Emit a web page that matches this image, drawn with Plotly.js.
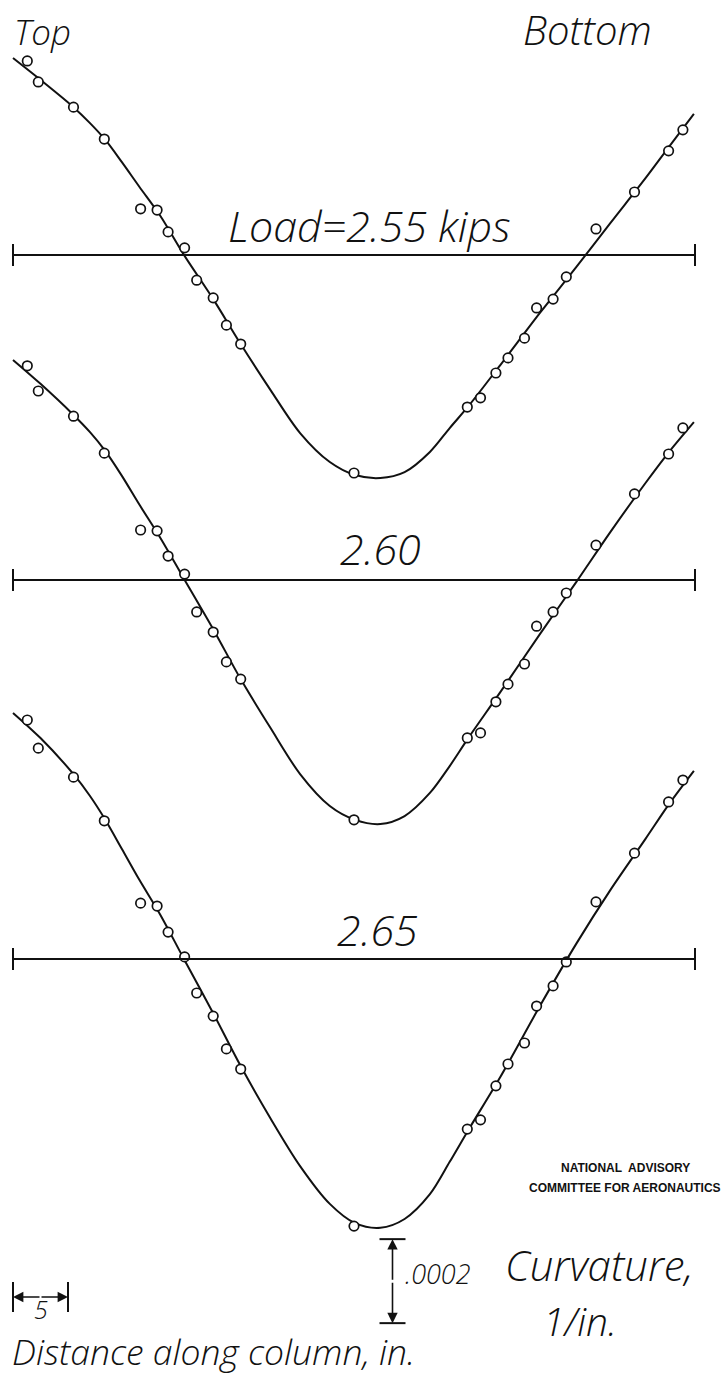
<!DOCTYPE html>
<html>
<head>
<meta charset="utf-8">
<script src="https://cdn.plot.ly/plotly-3.0.1.min.js"></script>
<style>body{margin:0;background:#fff}</style>
</head>
<body>
<div id="plot" style="width:722px;height:1378px"></div>
<script>
// gauge stations, distance along column (in.), top end = 0
var stations = [1.3, 2.3, 5.5, 8.3, 11.6, 13.1, 14.1, 15.6, 16.7, 18.2, 19.4, 20.7, 31.0,
                41.3, 42.5, 43.9, 45.0, 46.5, 47.6, 49.1, 50.3, 53.0, 56.5, 59.6, 60.9];

// measured curvature, 1/in.
var curv255 = [4.62e-4, 4.12e-4, 3.52e-4, 2.76e-4, 1.10e-4, 1.07e-4, 0.55e-4, 0.17e-4, -0.60e-4, -1.02e-4, -1.67e-4, -2.12e-4, -5.19e-4,
               -3.62e-4, -3.40e-4, -2.81e-4, -2.45e-4, -1.98e-4, -1.26e-4, -1.05e-4, -0.52e-4, 0.62e-4, 1.50e-4, 2.48e-4, 2.98e-4];
var curv260 = [5.10e-4, 4.50e-4, 3.90e-4, 3.02e-4, 1.19e-4, 1.17e-4, 0.57e-4, 0.14e-4, -0.76e-4, -1.24e-4, -1.95e-4, -2.36e-4, -5.71e-4,
               -3.76e-4, -3.64e-4, -2.90e-4, -2.48e-4, -2.00e-4, -1.10e-4, -0.76e-4, -0.31e-4, 0.83e-4, 2.05e-4, 3.00e-4, 3.62e-4];
var curv265 = [5.69e-4, 5.02e-4, 4.33e-4, 3.29e-4, 1.33e-4, 1.26e-4, 0.64e-4, 0.05e-4, -0.81e-4, -1.36e-4, -2.14e-4, -2.62e-4, -6.36e-4,
               -4.05e-4, -3.83e-4, -3.02e-4, -2.50e-4, -2.00e-4, -1.12e-4, -0.64e-4, -0.07e-4, 1.36e-4, 2.52e-4, 3.74e-4, 4.26e-4];

// faired curves
var fairX = [0, 2.5, 5.5, 7.0, 8.4, 9.9, 11.5, 13.4, 15.5, 18.2, 20.7, 23.4, 26.1, 28.8, 31.1,
             33.4, 35.6, 37.9, 39.7, 41.4, 44.3, 47.9, 51.2, 54.3, 57.5, 59.7, 61.9];
var fair255 = [4.69e-4, 4.17e-4, 3.52e-4, 3.14e-4, 2.74e-4, 2.21e-4, 1.62e-4, 0.93e-4, 0.02e-4, -1.05e-4, -2.12e-4, -3.21e-4, -4.24e-4, -4.93e-4, -5.24e-4,
               -5.31e-4, -5.17e-4, -4.69e-4, -4.12e-4, -3.60e-4, -2.62e-4, -1.38e-4, -0.29e-4, 0.76e-4, 1.83e-4, 2.60e-4, 3.36e-4];
var fair260 = [5.24e-4, 4.67e-4, 3.93e-4, 3.52e-4, 3.07e-4, 2.48e-4, 1.79e-4, 1.00e-4, 0.05e-4, -1.17e-4, -2.36e-4, -3.52e-4, -4.62e-4, -5.38e-4, -5.71e-4,
               -5.81e-4, -5.62e-4, -5.07e-4, -4.43e-4, -3.76e-4, -2.67e-4, -1.29e-4, -0.05e-4, 1.14e-4, 2.31e-4, 3.07e-4, 3.76e-4];
var fair265 = [5.86e-4, 5.26e-4, 4.40e-4, 3.88e-4, 3.31e-4, 2.62e-4, 1.88e-4, 1.05e-4, 0.02e-4, -1.29e-4, -2.55e-4, -3.79e-4, -4.93e-4, -5.83e-4, -6.29e-4,
               -6.40e-4, -6.19e-4, -5.60e-4, -4.83e-4, -4.07e-4, -2.81e-4, -1.12e-4, 0.36e-4, 1.64e-4, 2.86e-4, 3.71e-4, 4.48e-4];

var loads = ["2.55", "2.60", "2.65"];
var columnLength = 62;     // in.
var distScale = 5;         // in.
var curvScale = 0.0002;    // 1/in.

// page geometry
var W = 722, H = 1378;
var pxPerIn = 11, x0px = 13;
var k = curvScale / 84;            // curvature per pixel
var basePx = [255, 580, 959];      // baseline of each curve on the page

function px(x) { return x / W; }
function py(y) { return 1 - y / H; }

var lettering = {family: "Open Sans, DejaVu Sans, sans-serif", color: "#111", style: "italic", weight: 300};

var measured = [curv255, curv260, curv265];
var faired = [fair255, fair260, fair265];
var data = [];
var shapes = [];
var annotations = [];

for (var i = 0; i < 3; i++) {
  var yref = i === 0 ? "y" : "y" + (i + 1);
  data.push({
    x: fairX, y: faired[i], yaxis: yref, type: "scatter", mode: "lines",
    line: {color: "#111", width: 2, shape: "spline", smoothing: 0.9},
    hoverinfo: "skip", showlegend: false
  });
  data.push({
    x: stations, y: measured[i], yaxis: yref, type: "scatter", mode: "markers",
    marker: {symbol: "circle", size: 9.5, color: "white", line: {color: "#111", width: 1.7}},
    name: loads[i] + " kips", showlegend: false
  });
  // baseline with end ticks
  shapes.push({type: "line", xref: "x", yref: yref, x0: 0, x1: columnLength, y0: 0, y1: 0,
               line: {color: "#111", width: 2}});
  [0, columnLength].forEach(function (xe) {
    shapes.push({type: "line", xref: "x", yref: yref, ysizemode: "pixel", yanchor: 0,
                 x0: xe, x1: xe, y0: -11, y1: 11, line: {color: "#111", width: 2}});
  });
}

// load labels
var labelPos = [[369, 225], [380, 548], [377, 930]];
loads.forEach(function (l, i) {
  annotations.push({xref: "paper", yref: "paper", x: px(labelPos[i][0]), y: py(labelPos[i][1]),
    text: i === 0 ? "Load=" + l + " kips" : l, showarrow: false,
    xanchor: "center", yanchor: "middle", font: Object.assign({size: 43}, lettering)});
});

function note(text, x, y, size, anchor) {
  annotations.push({xref: "paper", yref: "paper", x: px(x), y: py(y), text: text, showarrow: false,
    xanchor: anchor || "center", yanchor: "middle", font: Object.assign({size: size}, lettering)});
}
note("Top", 12, 31, 35, "left");
note("Bottom", 521, 29, 40, "left");
note(".0002", 403, 1273, 27, "left");
note("Curvature,", 599, 1264, 42);
note("1/in.", 580, 1320, 39);
note("5", 41, 1309, 25);
note("Distance along column, in.", 10, 1351, 35.5, "left");

var naca = {family: "Liberation Sans, Arial, sans-serif", size: 12, color: "#111", weight: 700};
annotations.push({xref: "paper", yref: "paper", x: px(625), y: py(1168), text: "NATIONAL  ADVISORY",
  showarrow: false, xanchor: "center", yanchor: "middle", font: naca});
annotations.push({xref: "paper", yref: "paper", x: px(625), y: py(1188), text: "COMMITTEE FOR AERONAUTICS",
  showarrow: false, xanchor: "center", yanchor: "middle", font: naca});

// distance scale bar
var barY = py(1297);
[0, distScale].forEach(function (xe) {
  shapes.push({type: "line", xref: "x", yref: "paper", ysizemode: "pixel", yanchor: barY,
               x0: xe, x1: xe, y0: -15, y1: 15, line: {color: "#111", width: 2}});
});
annotations.push({xref: "x", yref: "paper", x: 0, y: barY, ax: 28, ay: 0, text: "", showarrow: true,
  arrowhead: 2, arrowsize: 1.3, arrowwidth: 1.6, arrowcolor: "#111"});
annotations.push({xref: "x", yref: "paper", x: distScale, y: barY, ax: -28, ay: 0, text: "", showarrow: true,
  arrowhead: 2, arrowsize: 1.3, arrowwidth: 1.6, arrowcolor: "#111"});

// curvature scale bar (drawn on the bottom curve's axis)
var barX = 34.5, barTop = -6.67e-4;
[barTop, barTop - curvScale].forEach(function (ye) {
  shapes.push({type: "line", xref: "x", yref: "y3", xsizemode: "pixel", xanchor: barX,
               x0: -13, x1: 13, y0: ye, y1: ye, line: {color: "#111", width: 2}});
});
annotations.push({xref: "x", yref: "y3", x: barX, y: barTop, ax: 0, ay: 42, text: "", showarrow: true,
  arrowhead: 2, arrowsize: 1.3, arrowwidth: 1.6, arrowcolor: "#111"});
annotations.push({xref: "x", yref: "y3", x: barX, y: barTop - curvScale, ax: 0, ay: -42, text: "", showarrow: true,
  arrowhead: 2, arrowsize: 1.3, arrowwidth: 1.6, arrowcolor: "#111"});

function yax(b, extra) {
  return Object.assign({range: [-(H - b) * k, b * k], domain: [0, 1], visible: false,
    showgrid: false, zeroline: false, fixedrange: true}, extra || {});
}

var layout = {
  width: W, height: H, autosize: false,
  margin: {l: 0, r: 0, t: 0, b: 0},
  paper_bgcolor: "white", plot_bgcolor: "white",
  showlegend: false,
  xaxis: {range: [-x0px / pxPerIn, (W - x0px) / pxPerIn], visible: false, showgrid: false, zeroline: false},
  yaxis: yax(basePx[0]),
  yaxis2: yax(basePx[1], {overlaying: "y"}),
  yaxis3: yax(basePx[2], {overlaying: "y"}),
  shapes: shapes,
  annotations: annotations
};

Plotly.newPlot("plot", data, layout, {displayModeBar: false, staticPlot: true});
</script>
</body>
</html>
